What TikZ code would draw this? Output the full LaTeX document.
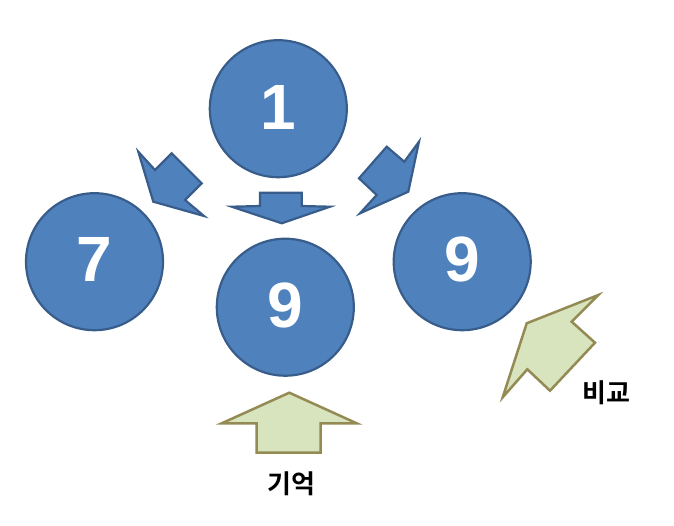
\documentclass[tikz,border=0pt]{standalone}
\usepackage{fontspec}
\usepackage{tikz}
\usetikzlibrary{shapes,arrows,positioning}
\setmainfont{Liberation Sans}
\newfontfamily\kofont{Noto Sans CJK KR Bold}
\definecolor{ballblue}{HTML}{4F81BD}
\definecolor{balledge}{HTML}{385D8A}
\definecolor{leafgreen}{HTML}{D7E4BD}
\definecolor{leafedge}{HTML}{948A54}

\begin{document}
\begin{tikzpicture}[x=1pt, y=-1pt]
    % Define styles
    \tikzstyle{ball} = [circle, minimum size=137pt, inner sep=0pt, draw=balledge, line width=2.2pt, fill=ballblue, text=white, font=\fontsize{64}{64}\selectfont\bfseries]
    \tikzstyle{bluearrow} = [draw=balledge, line width=2.2pt, fill=ballblue]
    \tikzstyle{greenarrow} = [draw=leafedge, line width=2.5pt, fill=leafgreen]
    \tikzstyle{caption} = [font=\kofont\fontsize{26}{26}\selectfont, inner sep=0pt]

    \useasboundingbox (0,0) rectangle (674,525);

    % Nodes
    \node[ball] (top) at (278.3,108.7) {\raisebox{3pt}{1}};
    \node[ball] (left) at (94.5,261.7) {\raisebox{4pt}{7}};
    \node[ball] (mid) at (285.3,307.2) {\raisebox{4pt}{9}};
    \node[ball] (right) at (462.2,261.7) {\raisebox{6pt}{9}};
    \node[caption] (memory) at (291,484) {기억};
    \node[caption] (compare) at (606.5,393) {비교};

    % Arrows
    \draw[bluearrow] (138.3,151.7) -- (155,170) -- (171.7,153.3) -- (201.7,183.3)
        -- (185,200) -- (204,216) -- (153.3,201.7) -- cycle;
    \draw[bluearrow] (260,192.7) -- (301.7,192.7) -- (301.7,206) -- (330,206.7)
        -- (281.7,223.3) -- (231.7,206.7) -- (260,206) -- cycle;
    \draw[bluearrow] (419,141.7) -- (408.3,191.7) -- (360,213.3) -- (376.7,195)
        -- (359,178.3) -- (386.7,146.7) -- (404.3,161.7) -- cycle;
    \draw[greenarrow] (289.3,392.7) -- (356.7,423.3) -- (320.7,423.3) -- (320.7,452.7)
        -- (256.7,452.7) -- (256.7,423.3) -- (221.7,423.3) -- cycle;
    \draw[greenarrow] (598.3,295) -- (571.7,321.7) -- (595,342.7) -- (550,390.7)
        -- (527.3,369.3) -- (502.7,397.3) -- (526.7,323.3) -- cycle;
\end{tikzpicture}
\end{document}
